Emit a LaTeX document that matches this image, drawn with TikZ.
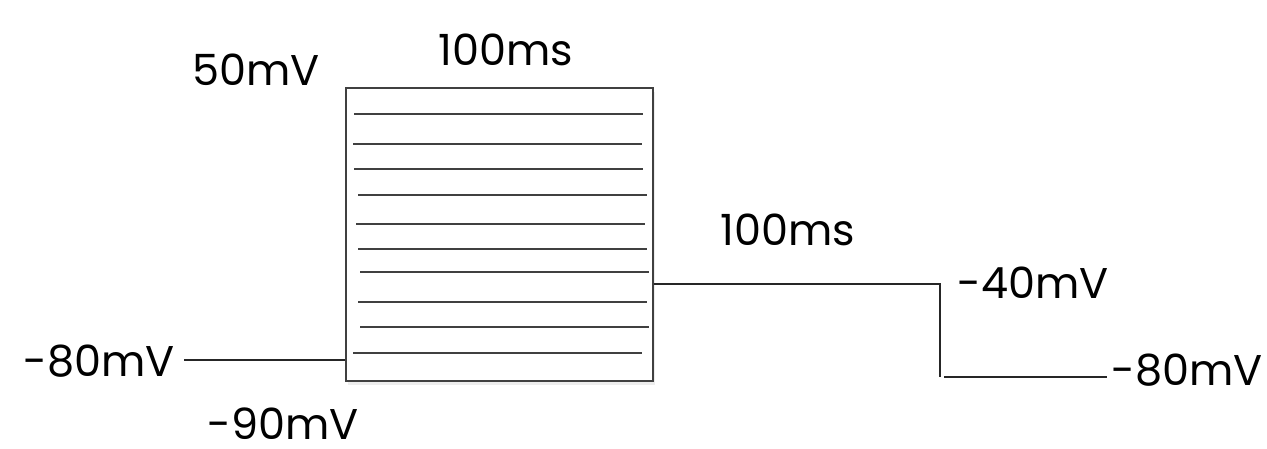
\documentclass[tikz,border=0pt]{standalone}
\usepackage{fontspec}
\setmainfont{Poppins}
\usetikzlibrary{shadows}
\begin{document}
\begin{tikzpicture}[x=1pt,y=-1pt,
  wire/.style={draw=black!85,line width=1.3pt},
  hatch/.style={draw=black!75,line width=1.7pt},
  lbl/.style={inner sep=0pt,font=\fontsize{43}{46}\selectfont,text=black,text depth=0pt},
  pulsebox/.style={draw=black!75,line width=1.4pt,fill=white,minimum width=307pt,minimum height=293pt,inner sep=0pt,
    drop shadow={shadow xshift=2pt,shadow yshift=-4pt,opacity=0.07,fill=black}}]
\useasboundingbox (0,0) rectangle (1267,449);
\node[pulsebox] (box) at (499.5,234.5) {};
% hatch lines inside the box
\draw[hatch] (354,114) -- (643,114);
\draw[hatch] (353,144) -- (642,144);
\draw[hatch] (354,169) -- (643,169);
\draw[hatch] (358,195) -- (647,195);
\draw[hatch] (356,224) -- (645,224);
\draw[hatch] (358,249) -- (647,249);
\draw[hatch] (360,272) -- (649,272);
\draw[hatch] (358,302) -- (647,302);
\draw[hatch] (360,327) -- (649,327);
\draw[hatch] (353,353) -- (642,353);
% connectors
\coordinate (lstart) at (184,360);
\coordinate (rstep) at (940,284);
\coordinate (rlow) at (944,377);
\coordinate (rend) at (1107,377);
\draw[wire] (lstart) -- (lstart -| box.west);
\draw[wire] (rstep -| box.east) -- (rstep) -- (rstep |- rlow);
\draw[wire] (rlow) -- (rend);
% labels
\node[lbl] (v50) at (256,70) {50mV};
\node[lbl] (t1) at (506,50) {100ms};
\node[lbl] (t2) at (788,230) {100ms};
\node[lbl] (v40) at (1033,283) {-40mV};
\node[lbl] (v80l) at (99,361) {-80mV};
\node[lbl] (v80r) at (1187,370) {-80mV};
\node[lbl] (v90) at (283,424) {-90mV};
\end{tikzpicture}
\end{document}
